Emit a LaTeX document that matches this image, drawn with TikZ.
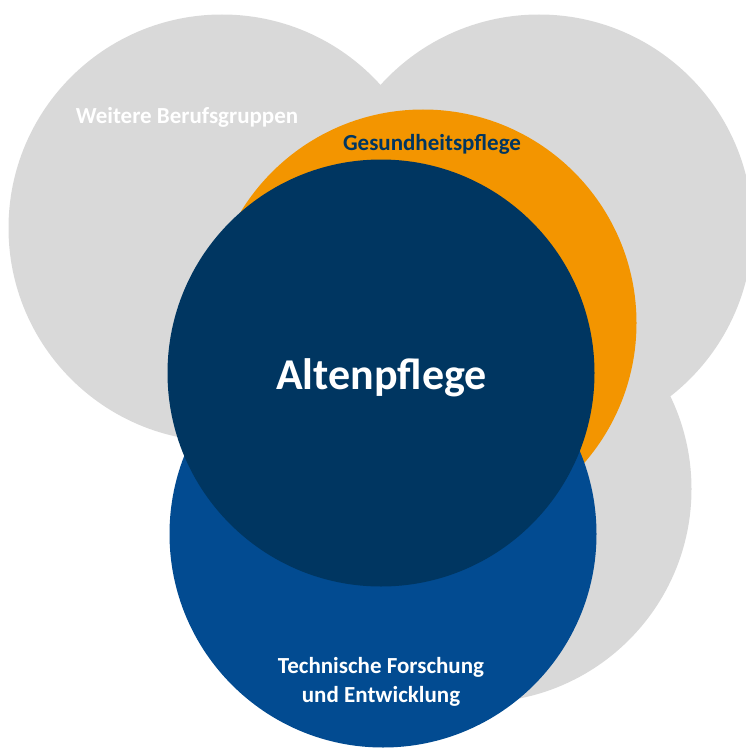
\documentclass[tikz,border=0pt]{standalone}
\usepackage{fontspec}
\setmainfont{Carlito}
\definecolor{lightgrey}{HTML}{D9D9D9}
\definecolor{careorange}{HTML}{F39500}
\definecolor{navyblue}{HTML}{003661}
\definecolor{midblue}{HTML}{024B91}
\begin{document}
\begin{tikzpicture}[x=1pt,y=-1pt,
  disc/.style={circle, minimum size=427pt, inner sep=0pt, draw=none},
  lbl/.style={align=center, inner sep=0pt, anchor=base}]
\useasboundingbox (0,0) rectangle (745,749);
% grey background discs
\node[disc, fill=lightgrey] (grayleft) at (222,228) {};
\node[disc, fill=lightgrey] (grayright) at (539,228) {};
\node[disc, fill=lightgrey] (graylow) at (478,489) {};
% coloured discs
\node[disc, fill=careorange] (health) at (423,323) {};
\node[disc, fill=midblue] (tech) at (383,534) {};
\node[disc, fill=navyblue] (elder) at (381,373) {};
% labels (base anchor = baseline of the last line)
\node[lbl, text=white, font=\bfseries\fontsize{23}{28}\selectfont] (lwb) at (187,124) {Weitere Berufsgruppen};
\node[lbl, text=navyblue, font=\bfseries\fontsize{23}{28}\selectfont] (lgp) at (432,150) {Gesundheitspflege};
\node[lbl, text=white, font=\bfseries\fontsize{44}{52}\selectfont] (lap) at (381.5,389.5) {Altenpflege};
\node[lbl, text=white, font=\bfseries\fontsize{23}{29}\selectfont] (ltf) at (381,702) {Technische Forschung\\und Entwicklung};
\end{tikzpicture}
\end{document}
